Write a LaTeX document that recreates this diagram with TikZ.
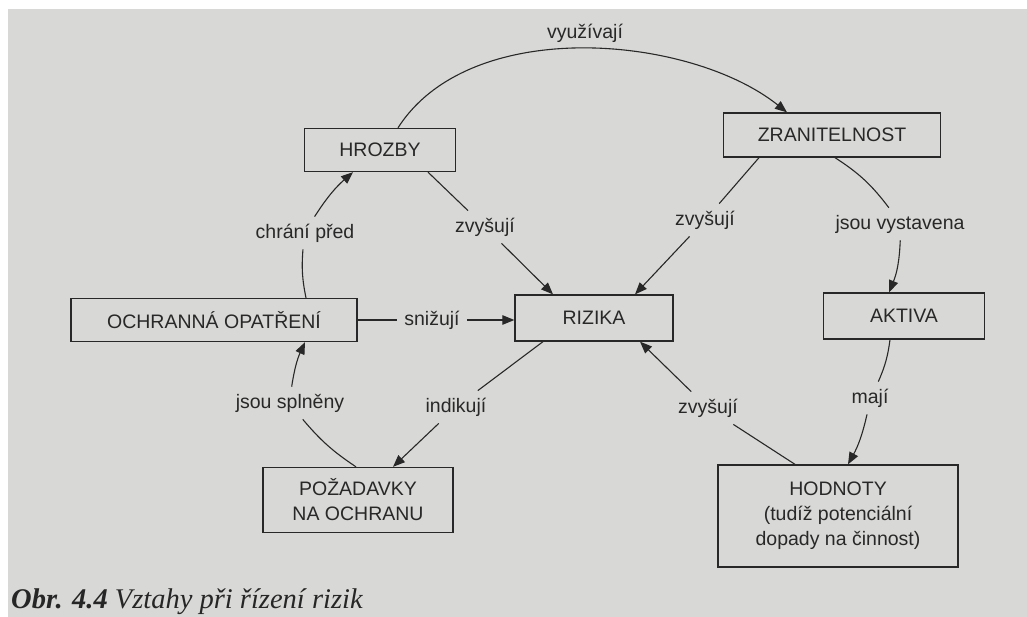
\documentclass[tikz,border=0pt]{standalone}
\usepackage{fontspec}
\setmainfont{Liberation Sans}
\newfontfamily\capfont{Liberation Serif}
\usetikzlibrary{arrows.meta}
\definecolor{paper}{RGB}{216,217,214}
\definecolor{ink}{RGB}{40,40,40}
\begin{document}
\begin{tikzpicture}[x=1pt,y=-1pt,
  box/.style={draw=ink, line width=1.3pt, text=ink, font=\fontsize{19.5}{25}\selectfont, align=center, inner sep=0pt},
  lab/.style={text=ink, font=\fontsize{19.5}{23}\selectfont, inner sep=7pt},
  con/.style={draw=ink, line width=1.1pt},
  arr/.style={con, -{Triangle[length=12pt,width=9.5pt]}},
]
\useasboundingbox (0,0) rectangle (1027,617);
\fill[paper] (0,0) rectangle (1027,617);
\fill[white] (0,0) rectangle (1027,9);
\fill[white] (0,0) rectangle (8,617);

% boxes
\node[box, minimum width=151pt, minimum height=43pt] (hrozby) at (380,150) {HROZBY};
\node[box, minimum width=217pt, minimum height=44pt] (zran) at (832,135) {ZRANITELNOST};
\node[box, minimum width=286pt, minimum height=43pt] (ochr) at (214,320) {OCHRANNÁ OPATŘENÍ};
\node[box, minimum width=158pt, minimum height=46pt] (rizika) at (594,318) {RIZIKA};
\node[box, minimum width=161pt, minimum height=46pt] (aktiva) at (904,316) {AKTIVA};
\node[box, minimum width=190pt, minimum height=65pt] (pozad) at (358,500) {POŽADAVKY\\NA OCHRANU};
\node[box, minimum width=240pt, minimum height=102pt] (hodn) at (838,516) {HODNOTY\\(tudíž potenciální\\dopady na činnost)};

% labels
\node[lab] (lvyuz) at (585,33) {využívají};
\node[lab] (lzv1) at (485,227) {zvyšují};
\node[lab] (lzv2) at (705,220) {zvyšují};
\node[lab] (ljv) at (900,224) {jsou vystavena};
\node[lab] (lsn) at (432,320) {snižují};
\node[lab] (lch) at (305,233) {chrání před};
\node[lab] (lind) at (456,407) {indikují};
\node[lab] (ljs) at (290,403) {jsou splněny};
\node[lab] (lzv3) at (708,408) {zvyšují};
\node[lab] (lmaj) at (870,398) {mají};

% connectors
\draw[arr] ([xshift=18pt]hrozby.north) .. controls (470,15) and (690,35) .. ([xshift=-45pt]zran.north);

\draw[con] ([xshift=48pt]hrozby.south) -- (lzv1);
\draw[arr] (lzv1) -- ([xshift=-41pt]rizika.north);

\draw[con] ([xshift=-73pt]zran.south) -- (lzv2);
\draw[arr] (lzv2) -- ([xshift=41pt]rizika.north);

\draw[con] ([xshift=3pt]zran.south) to[bend left=10] (ljv);
\draw[arr] (ljv) to[bend left=10] ([xshift=-15pt]aktiva.north);

\draw[con] (ochr.east) -- (lsn);
\draw[arr] (lsn) -- (rizika.west |- lsn);

\draw[con] ([xshift=92pt]ochr.north) to[bend left=8] (lch);
\draw[arr] (lch) to[bend left=8] ([xshift=-27pt]hrozby.south);

\draw[con] ([xshift=-51pt]rizika.south) -- (lind);
\draw[arr] (lind) -- ([xshift=35pt]pozad.north);

\draw[con] ([xshift=-2pt]pozad.north) to[bend left=8] (ljs);
\draw[arr] (ljs) to[bend left=8] ([xshift=91pt]ochr.south);

\draw[con] ([xshift=-14pt]aktiva.south) to[bend left=8] (lmaj);
\draw[arr] (lmaj) to[bend left=8] ([xshift=10pt]hodn.north);

\draw[con] ([xshift=-43pt]hodn.north) -- (lzv3);
\draw[arr] (lzv3) -- ([xshift=46pt]rizika.south);

% caption
\node[anchor=base west, text=black!85, inner sep=0pt, font=\capfont\fontsize{28.5}{32}\selectfont] (cap) at (11,608) {\textbf{\itshape Obr. 4.4} \itshape Vztahy při řízení rizik};
\end{tikzpicture}
\end{document}
